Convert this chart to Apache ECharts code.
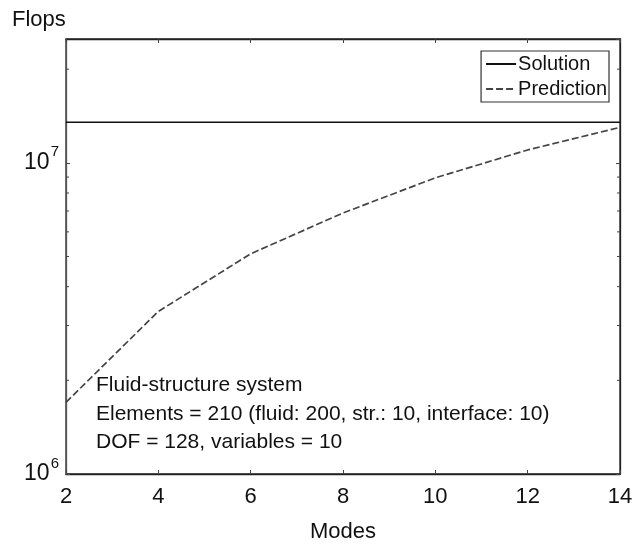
<!DOCTYPE html>
<html>
<head>
<meta charset="utf-8">
<script src="https://cdn.jsdelivr.net/npm/echarts@6/dist/echarts.min.js"></script>
<style>html,body{margin:0;padding:0;background:#fff;}#c{width:638px;height:545px;}</style>
</head>
<body>
<div id="c"></div>
<script>
// Data
const modes = [2, 4, 6, 8, 10, 12, 14];
const predictionFlops = [1.70e6, 3.33e6, 5.1e6, 6.9e6, 8.95e6, 1.10e7, 1.30e7];
const solutionX = [2, 14];
const solutionFlops = [1.35e7, 1.35e7];
const xTicks = [2, 4, 6, 8, 10, 12, 14];
const yMajor = [1e6, 1e7];
const yMinor = [2e6, 3e6, 4e6, 5e6, 6e6, 7e6, 8e6, 9e6, 2e7];
const yMin = 1e6, yMax = 2.5e7;
const annotation = [
  'Fluid-structure system',
  'Elements = 210 (fluid: 200, str.: 10, interface: 10)',
  'DOF = 128, variables = 10'
];

const FONT = '"Liberation Sans", Arial, sans-serif';
const chart = echarts.init(document.getElementById('c'), null, {renderer: 'canvas'});

const expLabel = v => {
  const e = Math.round(Math.log10(v));
  if (Math.abs(Math.log10(v) - e) > 1e-6 || yMajor.indexOf(Math.pow(10, e)) < 0) return '';
  return '{b|10}{s|' + e + '}';
};

chart.setOption({
  animation: false,
  backgroundColor: '#fff',
  title: {
    text: 'Flops', left: 7, top: 4,
    textStyle: {fontFamily: FONT, fontSize: 22, fontWeight: 'normal', color: '#111'}
  },
  grid: {left: 66, right: 18, top: 39, bottom: 71, show: true, borderColor: '#222', borderWidth: 1.3,
         backgroundColor: 'transparent', containLabel: false, outerBoundsMode: 'none'},
  legend: {
    orient: 'vertical', right: 29, top: 51, itemWidth: 30, itemHeight: 12, itemGap: 5,
    padding: [3, 2, 3, 4], borderColor: '#333', borderWidth: 1.2, backgroundColor: '#fff',
    itemStyle: {opacity: 0},
    textStyle: {fontFamily: FONT, fontSize: 20, color: '#111', padding: [0, 0, 0, -3]},
    data: ['Solution', 'Prediction']
  },
  xAxis: [{
    type: 'value', min: 2, max: 14, interval: 2,
    name: 'Modes', nameLocation: 'middle', nameGap: 47,
    nameTextStyle: {fontFamily: FONT, fontSize: 22, color: '#111'},
    axisLine: {show: true, lineStyle: {color: '#222', width: 1.3}},
    axisTick: {show: true, inside: true, length: 4, lineStyle: {color: '#444'}},
    axisLabel: {fontFamily: FONT, fontSize: 22, color: '#111', margin: 12},
    splitLine: {show: false}
  }, {
    type: 'value', min: 2, max: 14, interval: 2, position: 'top',
    axisLine: {show: true, lineStyle: {color: '#222', width: 1.3}},
    axisTick: {show: true, inside: true, length: 4, lineStyle: {color: '#444'}},
    axisLabel: {show: false}, splitLine: {show: false}
  }],
  yAxis: [{
    type: 'log', logBase: 10, min: yMin, max: yMax,
    axisLine: {show: true, lineStyle: {color: '#555', width: 1.3}},
    axisTick: {show: true, inside: true, length: 4, lineStyle: {color: '#444'}},
    axisLabel: {
      fontFamily: FONT, color: '#111', margin: 7, showMaxLabel: false,
      formatter: expLabel,
      rich: {
        b: {fontFamily: FONT, fontSize: 23, color: '#111', verticalAlign: 'middle', lineHeight: 36},
        s: {fontFamily: FONT, fontSize: 15, color: '#111', verticalAlign: 'top', lineHeight: 15, padding: [0, 0, 0, 1]}
      }
    },
    splitLine: {show: false}
  }, {
    type: 'log', logBase: 10, min: yMin, max: yMax, position: 'right',
    axisLine: {show: true, lineStyle: {color: '#222', width: 1.3}},
    axisTick: {show: true, inside: true, length: 4, lineStyle: {color: '#444'}},
    axisLabel: {show: false}, splitLine: {show: false}
  }],
  graphic: [{
    type: 'text', left: 96, top: 371,
    style: {
      text: annotation.join('\n'), fontFamily: FONT, fontSize: 21, lineHeight: 28.5, fill: '#111'
    }
  }],
  series: [{
    name: 'Solution', type: 'line', symbol: 'none',
    data: solutionX.map((x, i) => [x, solutionFlops[i]]),
    itemStyle: {color: '#111'},
    lineStyle: {color: '#111', width: 1.4, type: 'solid'}
  }, {
    name: 'Prediction', type: 'line', symbol: 'none',
    data: modes.map((x, i) => [x, predictionFlops[i]]),
    itemStyle: {color: '#444'},
    lineStyle: {color: '#444', width: 1.7, type: [7, 3]}
  }, {
    name: 'minorTicks', type: 'custom', silent: true,
    data: yMinor.map(v => [v]),
    renderItem: function (params, api) {
      const v = api.value(0);
      const l = api.coord([2, v]);
      const r = api.coord([14, v]);
      return {
        type: 'group',
        children: [
          {type: 'line', shape: {x1: l[0], y1: l[1], x2: l[0] + 3, y2: l[1]}, style: {stroke: '#444', lineWidth: 1}},
          {type: 'line', shape: {x1: r[0], y1: r[1], x2: r[0] - 3, y2: r[1]}, style: {stroke: '#444', lineWidth: 1}}
        ]
      };
    }
  }]
});
</script>
</body>
</html>
